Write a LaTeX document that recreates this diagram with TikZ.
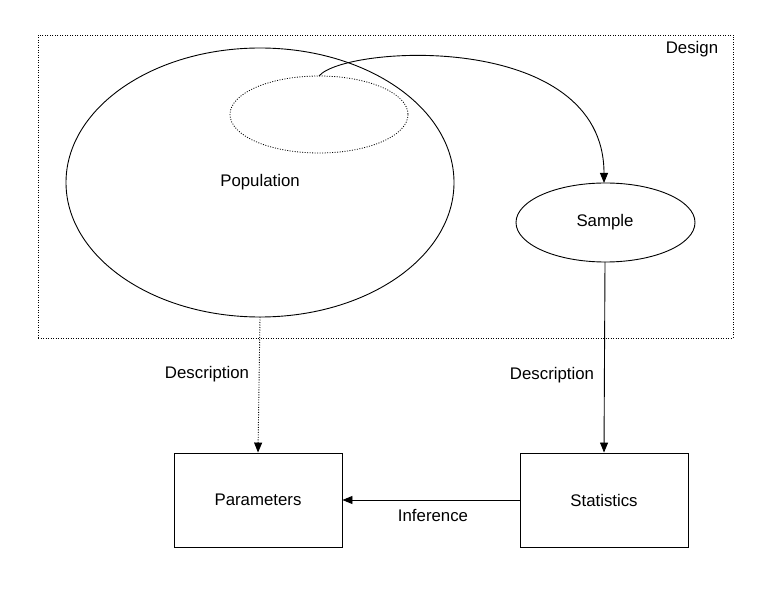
\documentclass[tikz,border=0pt]{standalone}
\usepackage{fontspec}
\setmainfont{Liberation Sans}
\usetikzlibrary{arrows.meta}
\begin{document}
\begin{tikzpicture}[x=1pt,y=-1pt,
  lbl/.style={font=\fontsize{16.8}{18}\selectfont, inner sep=0pt},
  arr/.style={line width=0.9pt, -{Triangle[length=10,width=8]}},
  dotline/.style={dash pattern=on 1pt off 1.5pt},
  boxn/.style={draw, line width=0.9pt, minimum width=168, minimum height=94, font=\fontsize{16.8}{18}\selectfont},
]
\useasboundingbox (0,0) rectangle (768,593);
\node[draw, line width=0.8pt, dotline, minimum width=695, minimum height=303, inner sep=0pt] (design) at (385.5,186.5) {};
\node[lbl] (designlbl) at (692,49) {Design};
\draw[line width=0.9pt] (260,182.5) ellipse [x radius=194, y radius=134.5];
\coordinate (popbottom) at (260,317);
\node[lbl] (pop) at (260,182) {Population};
\draw[line width=0.8pt, dotline] (319,114.5) ellipse [x radius=89, y radius=38.5];
\coordinate (smalltop) at (319,76);
\draw[line width=0.9pt] (605.5,222.5) ellipse [x radius=89.5, y radius=39.5];
\node[lbl] (sample) at (605,222) {Sample};
\coordinate (sampletop) at (604,183);
\coordinate (samplebottom) at (605,262);
\node[boxn] (param) at (258,500) {Parameters};
\node[boxn] (stat) at (604,500) {Statistics};
\draw[arr] (smalltop) .. controls (345,45) and (604,30) .. (sampletop);
\draw[arr] (samplebottom) -- (stat.north);
\draw[arr, dotline] (popbottom) -- (param.north);
\draw[arr] (stat.west) -- (param.east);
\node[lbl] (d1) at (207,374) {Description};
\node[lbl] (d2) at (552,375) {Description};
\node[lbl] (inf) at (433,516) {Inference};
\end{tikzpicture}
\end{document}
